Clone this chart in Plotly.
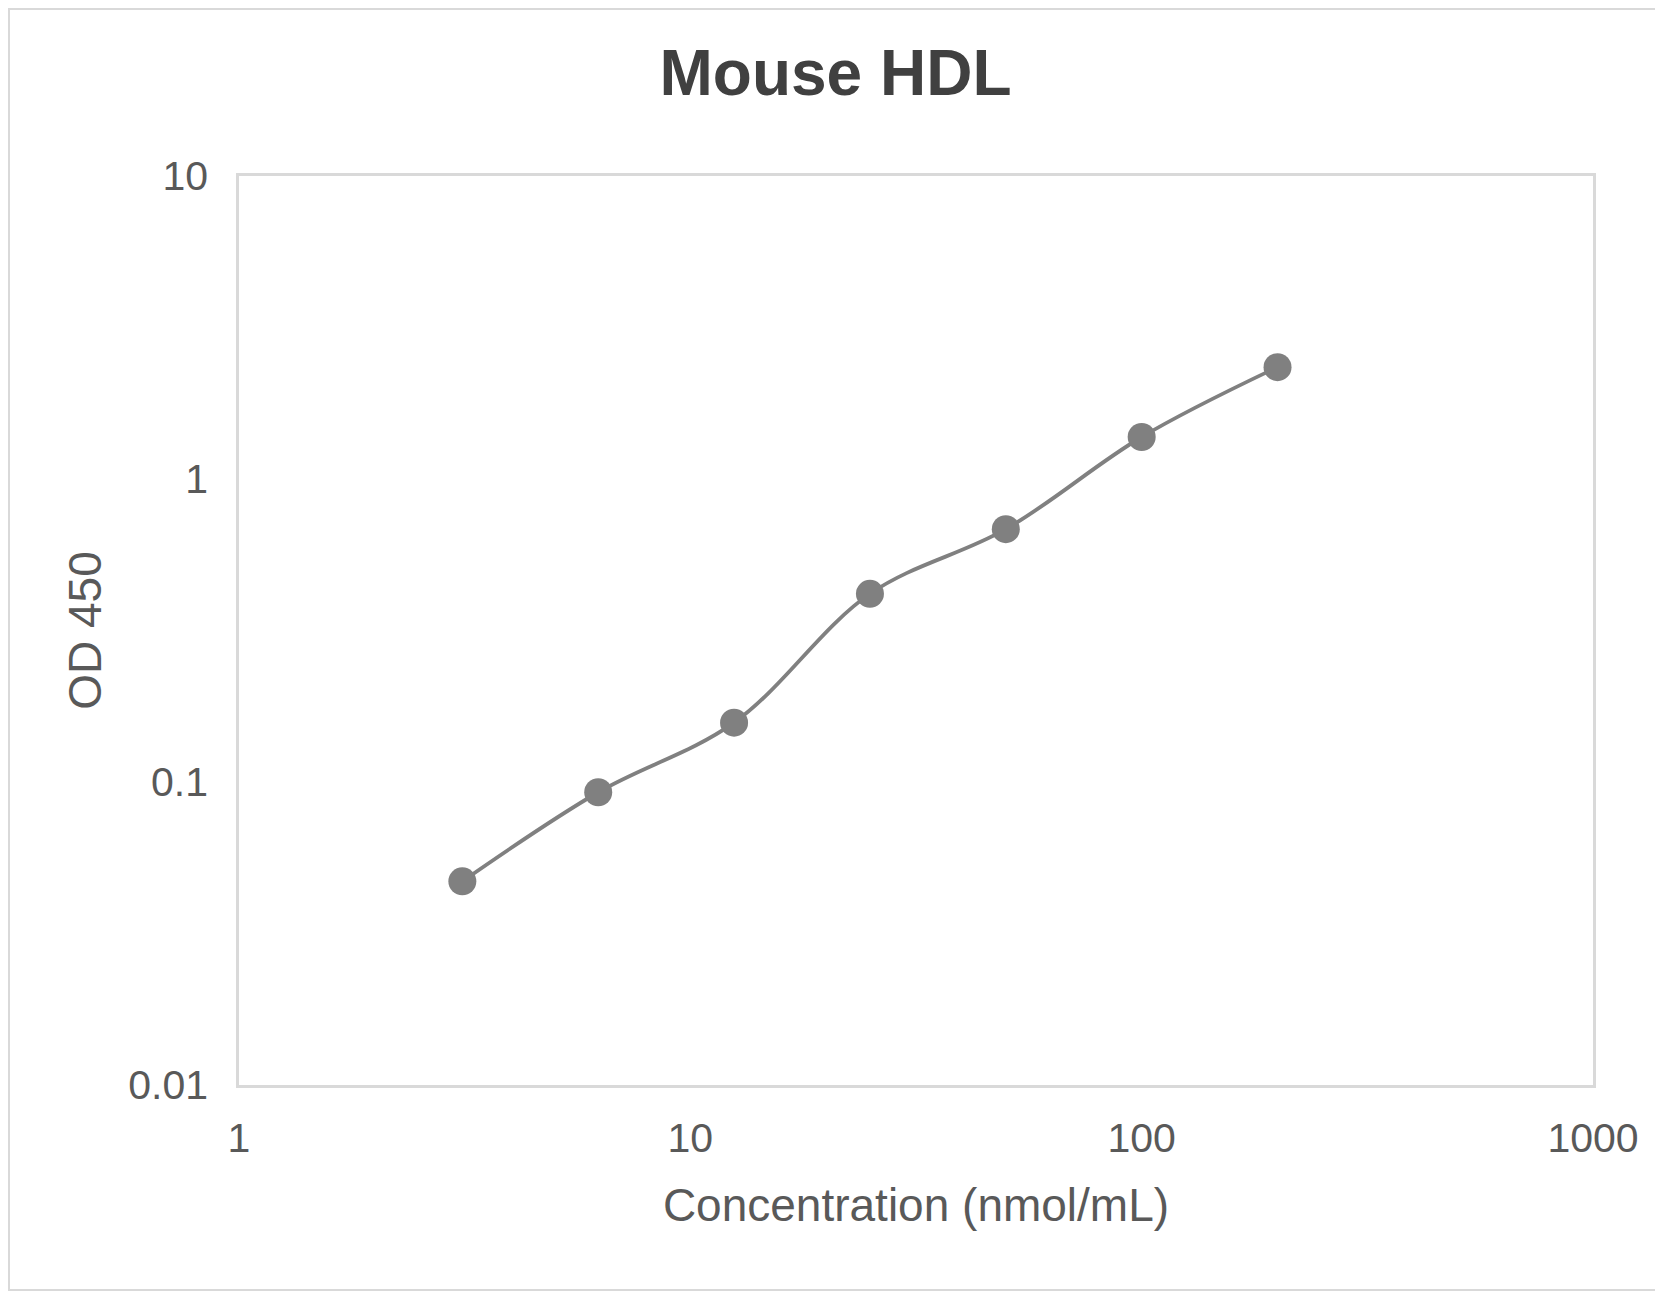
import plotly.graph_objects as go

# Data
concentration = [3.125, 6.25, 12.5, 25, 50, 100, 200]
od450 = [0.047, 0.0925, 0.157, 0.418, 0.683, 1.376, 2.34]

x_tickvals = [1, 10, 100, 1000]
x_ticktext = ["1", "10", "100", "1000"]
y_tickvals = [0.01, 0.1, 1, 10]
y_ticktext = ["0.01", "0.1", "1", "10"]

# page body has an 8px margin, so the figure is sized to fit the window
W, H = 1655, 1286
ML, MR, MT, MB = 231, 70, 168, 209
PW, PH = W - ML - MR, H - MT - MB

FONT = "Arial, Liberation Sans, sans-serif"
GREY = "#808080"
TXT = "#595959"

fig = go.Figure()
fig.add_trace(go.Scatter(
    x=concentration, y=od450,
    mode="lines+markers",
    line=dict(color=GREY, width=3.8, shape="spline", smoothing=1.0),
    marker=dict(color=GREY, size=28),
    showlegend=False,
))

# outer light border around the whole image
fig.add_shape(type="rect", xref="paper", yref="paper",
              x0=-(ML - 1) / PW, x1=1 + (MR - 2) / PW,
              y0=-(MB - 4) / PH, y1=1 + (MT - 1) / PH,
              line=dict(color="#d9d9d9", width=2), layer="below")

fig.update_layout(
    width=W, height=H,
    margin=dict(l=ML, r=MR, t=MT, b=MB),
    paper_bgcolor="white", plot_bgcolor="white",
    font=dict(family=FONT, color=TXT),
    title=dict(text="<b>Mouse HDL</b>", x=0.5, xref="container", xanchor="center",
               y=1 - 65 / H, yref="container", yanchor="middle",
               font=dict(family=FONT, size=64, color="#404040")),
)

fig.update_xaxes(
    type="log", range=[0, 3],
    tickvals=x_tickvals, ticktext=x_ticktext,
    showgrid=False, zeroline=False,
    showline=True, mirror=True, linecolor="#d9d9d9", linewidth=2.5,
    ticks="", ticklabelstandoff=15,
    tickfont=dict(family=FONT, size=41, color=TXT),
    title=dict(text="Concentration (nmol/mL)", standoff=29,
               font=dict(family=FONT, size=46, color=TXT)),
)
fig.update_yaxes(
    type="log", range=[-2, 1],
    tickvals=y_tickvals, ticktext=y_ticktext,
    showgrid=False, zeroline=False,
    showline=True, mirror=True, linecolor="#d9d9d9", linewidth=2.5,
    ticks="", ticklabelstandoff=20,
    tickfont=dict(family=FONT, size=41, color=TXT),
    title=dict(text="OD 450", standoff=13,
               font=dict(family=FONT, size=46, color=TXT)),
)

fig.write_html("out.html")
